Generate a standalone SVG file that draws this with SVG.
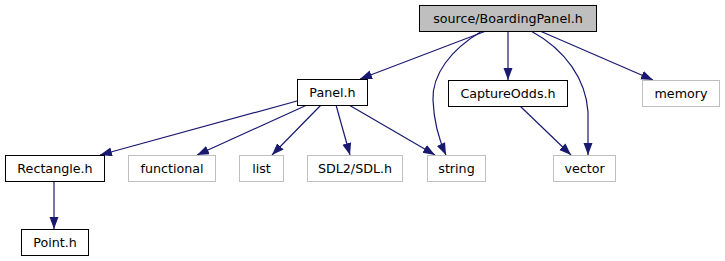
<svg xmlns="http://www.w3.org/2000/svg" width="725" height="261" viewBox="0 0 725 261">
  <style>
    .node rect { fill: #ffffff; stroke: #000000; stroke-width: 1; }
    .node.ext rect { stroke: #bfbfbf; }
    .node.root rect { fill: #bfbfbf; }
    .node text { font-family: "DejaVu Sans", sans-serif; font-size: 12.7px; fill: #000000; text-anchor: middle; }
    .edge { fill: none; stroke: #191970; stroke-width: 1.2; marker-end: url(#arrow); }
  </style>
  <defs>
    <marker id="arrow" markerUnits="userSpaceOnUse" markerWidth="13" markerHeight="10" refX="12" refY="4.5" orient="auto">
      <path d="M0,0 L12,4.5 L0,9 z" fill="#191970"/>
    </marker>
  </defs>
  <rect width="725" height="261" fill="#ffffff"/>

  <g id="edges">
    <path class="edge" d="M486,31 L360,79"/>
    <path class="edge" d="M482,31 C450,50 432,75 433,100 C434,125 440,142 446,155"/>
    <path class="edge" d="M508,31 L508,80"/>
    <path class="edge" d="M531,31 C566,50 586,80 588,112 L588,155"/>
    <path class="edge" d="M540,31 L653,80"/>
    <path class="edge" d="M520,106 L571,155"/>
    <path class="edge" d="M297,101 L100,155"/>
    <path class="edge" d="M307,105 L197,155"/>
    <path class="edge" d="M321,105 L272,155"/>
    <path class="edge" d="M336,105 L350,155"/>
    <path class="edge" d="M349,105 L435,155"/>
    <path class="edge" d="M54,181 L54,229"/>
  </g>

  <g id="node-boardingpanel" class="node root">
    <rect x="419.5" y="5.5" width="177" height="26"/>
    <text x="508" y="23">source/BoardingPanel.h</text>
  </g>
  <g id="node-panel" class="node">
    <rect x="297.5" y="79.5" width="70" height="26"/>
    <text x="332.5" y="97">Panel.h</text>
  </g>
  <g id="node-captureodds" class="node">
    <rect x="448.5" y="80.5" width="119" height="26"/>
    <text x="508" y="98">CaptureOdds.h</text>
  </g>
  <g id="node-memory" class="node ext">
    <rect x="642.5" y="80.5" width="77" height="26"/>
    <text x="681" y="98">memory</text>
  </g>
  <g id="node-rectangle" class="node">
    <rect x="5.5" y="155.5" width="99" height="26"/>
    <text x="55" y="173">Rectangle.h</text>
  </g>
  <g id="node-functional" class="node ext">
    <rect x="128.5" y="155.5" width="87" height="26"/>
    <text x="172" y="173">functional</text>
  </g>
  <g id="node-list" class="node ext">
    <rect x="239.5" y="155.5" width="44" height="26"/>
    <text x="261.5" y="173">list</text>
  </g>
  <g id="node-sdl" class="node ext">
    <rect x="307.5" y="155.5" width="95" height="26"/>
    <text x="355" y="173">SDL2/SDL.h</text>
  </g>
  <g id="node-string" class="node ext">
    <rect x="427.5" y="155.5" width="58" height="26"/>
    <text x="456.5" y="173">string</text>
  </g>
  <g id="node-vector" class="node ext">
    <rect x="553.5" y="155.5" width="62" height="26"/>
    <text x="584.5" y="173">vector</text>
  </g>
  <g id="node-point" class="node">
    <rect x="21.5" y="229.5" width="67" height="26"/>
    <text x="55" y="247">Point.h</text>
  </g>
</svg>
